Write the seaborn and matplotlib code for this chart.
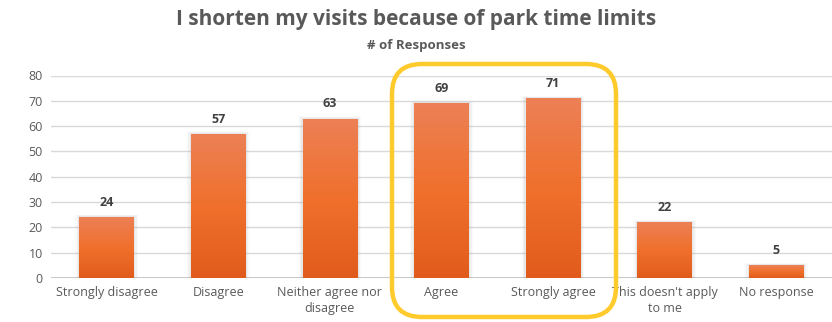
import numpy as np
import pandas as pd
import matplotlib
matplotlib.use("Agg")
import matplotlib.pyplot as plt
import seaborn as sns
from matplotlib.patches import FancyBboxPatch, Rectangle
from matplotlib.colors import LinearSegmentedColormap
from matplotlib.transforms import IdentityTransform

categories = ["Strongly disagree", "Disagree", "Neither agree nor\ndisagree",
              "Agree", "Strongly agree", "This doesn't apply\nto me", "No response"]
responses = [24, 57, 63, 69, 71, 22, 5]
y_ticks = [0, 10, 20, 30, 40, 50, 60, 70, 80]

title = "I shorten my visits because of park time limits"
subtitle = "# of Responses"

sns.set_theme(style="white")
plt.rcParams["font.family"] = ["Open Sans", "DejaVu Sans"]

W, H, DPI = 832, 322, 100
fig = plt.figure(figsize=(W / DPI, H / DPI), dpi=DPI)
ax = fig.add_axes([51 / W, 1 - 278 / H, (W - 51) / W, (278 - 75.5) / H])

df = pd.DataFrame({"category": categories, "responses": responses})
sns.barplot(data=df, x="category", y="responses", ax=ax, width=0.49,
            color="#EE7030", saturation=1)

ax.set_ylim(0, 80)
ax.set_xlim(-0.5, len(categories) - 0.5)
ax.set_yticks(y_ticks)
ax.set_yticklabels([str(t) for t in y_ticks], fontsize=9, color="#595959")
ax.tick_params(axis="x", labelsize=9, colors="#595959", length=0, pad=6)
ax.tick_params(axis="y", length=0, pad=6)
for lab in ax.get_xticklabels():
    lab.set_linespacing(1.25)
ax.set_xlabel("")
ax.set_ylabel("")
for s in ax.spines.values():
    s.set_visible(False)
ax.set_axisbelow(True)
ax.yaxis.grid(True, color="#D9D9D9", linewidth=1)
ax.axhline(0, color="#BFBFBF", linewidth=1.2, zorder=1)

# vertical orange gradient inside each bar, with a soft grey shadow
cmap = LinearSegmentedColormap.from_list(
    "bar_grad", ["#E15C1C", "#F0702C", "#EC8056"])
grad = np.linspace(0, 1, 256).reshape(-1, 1)
for bar in ax.patches:
    x0, w, h = bar.get_x(), bar.get_width(), bar.get_height()
    bar.set_facecolor("none")
    bar.set_edgecolor("none")
    for k, a in enumerate([0.10, 0.07, 0.04]):
        dx = 0.012 * (k + 1)
        dy = 0.35 * (k + 1)
        ax.add_patch(Rectangle((x0 - dx, 0), w + 2 * dx, h + dy,
                               facecolor="#8C8C8C", alpha=a,
                               edgecolor="none", zorder=2))
    im = ax.imshow(grad, cmap=cmap, aspect="auto", origin="lower",
                   extent=(x0, x0 + w, 0, h), zorder=3)
    im.set_clip_path(Rectangle((x0, 0), w, h, transform=ax.transData))
    ax.text(x0 + w / 2, h + 3.2, f"{h:.0f}", ha="center", va="bottom",
            fontsize=9, fontweight="bold", color="#404040", zorder=4)
ax.set_xlim(-0.5, len(categories) - 0.5)
ax.set_ylim(0, 80)

fig.text(0.5, 1 - 20 / H, title, ha="center", va="center",
         fontsize=15, fontweight="bold", color="#595959")
fig.text(0.5, 1 - 45 / H, subtitle, ha="center", va="center",
         fontsize=9.5, fontweight="bold", color="#595959")

# rounded highlight around the two agreeing groups (pixel coordinates)
box = FancyBboxPatch((392, H - 317), 224, 253,
                     boxstyle="round,pad=0,rounding_size=30",
                     transform=IdentityTransform(), fill=False,
                     edgecolor="#FFCA2C", linewidth=3.2, zorder=10)
fig.add_artist(box)

fig.savefig("out.png", dpi=DPI)
